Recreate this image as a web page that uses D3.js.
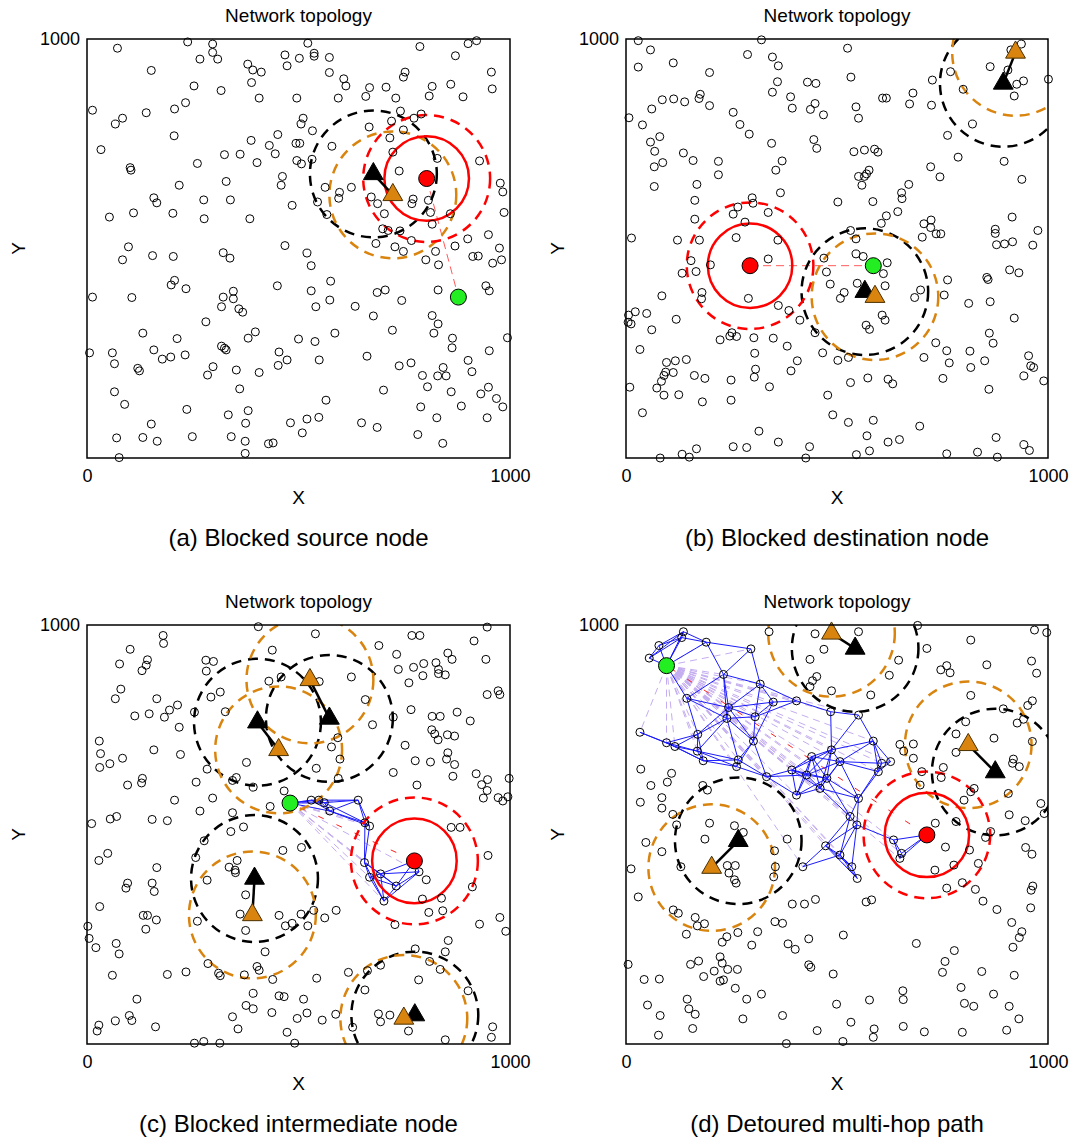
<!DOCTYPE html>
<html>
<head>
<meta charset="utf-8">
<script src="https://cdn.jsdelivr.net/npm/d3@7"></script>
<style>
  body { margin: 0; background: #fff; }
  text { font-family: "Liberation Sans", Arial, sans-serif; fill: #000; }
</style>
</head>
<body>
<script>
// ---- data (field coordinates, 0..1000) ----
var tickX = [0, 1000];
var tickY = [1000];
var rangeSolid = 100;   // source comm range
var rangeDashed = 150;  // jamming / outer range
var linkRange = 110;    // blue links between routing nodes

var nodesA = [[72,978],[238,993],[297,988],[522,990],[787,982],[901,989],[921,996],[297,968],[267,952],[309,952],[468,962],[502,954],[537,966],[537,959],[573,956],[871,960],[152,925],[380,940],[392,926],[412,921],[473,936],[573,920],[752,921],[748,909],[956,921],[253,888],[317,877],[389,896],[607,905],[612,888],[668,884],[707,885],[816,887],[860,892],[958,881],[407,859],[496,859],[594,859],[659,863],[730,859],[809,864],[889,862],[13,830],[84,811],[67,797],[140,824],[207,833],[233,848],[511,811],[741,828],[790,821],[773,811],[506,797],[533,781],[667,790],[720,804],[748,783],[206,769],[388,758],[451,772],[716,764],[33,736],[431,746],[445,726],[494,751],[503,751],[579,744],[723,730],[325,724],[362,725],[261,703],[402,705],[496,710],[507,702],[532,713],[828,715],[928,709],[102,693],[104,687],[738,685],[218,651],[329,660],[462,672],[459,651],[977,656],[983,635],[158,621],[165,609],[276,616],[339,616],[563,646],[597,634],[595,620],[625,646],[672,623],[687,607],[771,618],[768,607],[807,615],[545,611],[485,603],[53,575],[110,585],[203,584],[277,571],[385,571],[567,581],[703,583],[812,586],[859,583],[986,586],[699,547],[712,543],[740,542],[816,558],[949,533],[900,523],[683,512],[728,504],[767,519],[870,506],[975,501],[468,507],[98,504],[824,493],[801,473],[831,461],[912,481],[925,482],[959,465],[980,473],[748,493],[84,473],[155,483],[204,481],[322,490],[338,477],[520,489],[530,459],[13,384],[106,383],[199,413],[207,424],[234,404],[450,411],[530,399],[576,422],[574,377],[541,361],[346,398],[322,384],[346,380],[318,361],[359,356],[368,348],[281,325],[634,362],[686,395],[705,401],[744,376],[677,339],[830,401],[943,411],[951,399],[816,340],[830,320],[820,298],[722,305],[864,286],[863,263],[994,287],[951,256],[132,298],[213,285],[158,258],[178,236],[198,241],[232,246],[6,251],[60,251],[65,225],[120,214],[124,208],[318,267],[325,262],[329,258],[381,286],[398,301],[298,218],[285,198],[353,210],[407,204],[454,253],[473,234],[452,221],[500,284],[539,278],[586,298],[549,234],[662,243],[738,220],[766,227],[793,197],[842,216],[829,196],[849,196],[901,233],[910,206],[805,170],[861,158],[949,169],[931,153],[968,142],[983,122],[885,124],[789,122],[827,96],[946,96],[701,162],[565,138],[65,158],[89,128],[361,165],[236,116],[334,103],[381,113],[375,83],[152,81],[481,84],[520,93],[548,97],[509,60],[649,84],[686,73],[782,56],[841,35],[70,48],[132,49],[166,40],[249,51],[341,51],[374,40],[374,11],[429,34],[440,36],[76,1]];

var nodesB = [[29,996],[58,974],[321,998],[29,933],[112,943],[198,920],[288,963],[347,957],[361,936],[359,898],[347,873],[430,897],[450,894],[525,978],[533,909],[390,862],[394,835],[437,832],[448,846],[468,819],[86,855],[113,857],[139,850],[173,858],[176,868],[198,841],[61,833],[7,812],[39,795],[80,767],[58,754],[68,732],[87,705],[67,695],[67,648],[136,728],[159,710],[219,708],[219,676],[168,653],[163,615],[163,570],[254,825],[270,796],[292,773],[345,751],[370,709],[355,687],[366,633],[299,621],[301,608],[265,599],[254,582],[282,563],[337,586],[261,526],[360,520],[174,520],[122,520],[13,525],[445,760],[452,739],[540,731],[565,735],[589,737],[597,730],[545,838],[551,811],[608,859],[617,859],[680,871],[672,845],[724,842],[726,902],[769,922],[799,880],[821,797],[762,770],[787,718],[722,695],[744,671],[896,708],[938,665],[863,934],[905,926],[926,892],[942,900],[920,864],[937,988],[912,974],[1001,904],[576,687],[570,678],[565,672],[551,672],[559,651],[670,653],[653,633],[654,619],[644,588],[617,578],[605,560],[585,612],[502,611],[532,543],[545,523],[706,559],[723,568],[722,550],[735,535],[746,535],[702,527],[915,575],[875,546],[875,536],[976,543],[878,509],[897,511],[916,516],[964,508],[154,471],[133,441],[166,445],[200,461],[85,387],[180,395],[179,380],[290,381],[337,475],[361,364],[386,352],[412,329],[6,341],[22,349],[5,324],[12,320],[49,345],[119,331],[61,306],[33,259],[223,282],[246,291],[251,299],[262,290],[303,287],[349,286],[382,267],[305,250],[307,212],[304,193],[340,170],[406,232],[391,208],[448,299],[466,251],[502,233],[527,240],[475,444],[469,477],[484,415],[545,487],[562,481],[548,417],[517,395],[508,381],[619,466],[610,440],[614,411],[607,341],[614,329],[569,317],[577,307],[698,401],[684,383],[754,389],[762,425],[812,369],[863,373],[855,431],[858,426],[909,449],[931,442],[920,334],[861,298],[870,274],[734,275],[760,256],[766,227],[706,240],[815,255],[817,216],[850,232],[954,244],[959,220],[966,216],[943,196],[990,184],[860,164],[751,190],[621,188],[632,177],[573,191],[532,180],[9,169],[73,167],[84,183],[90,197],[94,205],[96,228],[112,204],[117,232],[143,235],[162,197],[187,190],[125,151],[90,150],[181,134],[249,186],[249,138],[39,108],[478,150],[490,103],[527,85],[586,90],[571,53],[621,38],[648,44],[696,76],[877,49],[943,32],[956,18],[833,14],[880,2],[760,10],[577,17],[546,8],[435,27],[426,0],[361,38],[315,64],[286,25],[254,27],[167,22],[150,2],[133,9],[81,0]];

var nodesC = [[405,996],[540,979],[768,975],[787,975],[946,995],[915,962],[943,918],[690,951],[732,930],[853,933],[863,918],[825,910],[831,894],[831,884],[847,881],[796,908],[772,899],[794,879],[736,894],[761,862],[180,975],[181,956],[102,942],[143,917],[140,904],[130,891],[77,907],[80,847],[67,824],[165,824],[147,788],[113,783],[183,780],[195,797],[214,809],[218,756],[281,916],[299,913],[282,890],[438,940],[459,876],[430,866],[549,865],[625,876],[658,822],[675,762],[724,780],[766,798],[816,782],[835,782],[875,792],[906,771],[972,843],[976,834],[946,834],[815,750],[822,740],[830,726],[852,738],[869,735],[853,695],[850,680],[869,667],[865,639],[920,645],[933,619],[947,631],[946,605],[937,587],[972,588],[983,580],[998,634],[995,590],[752,713],[776,676],[812,673],[724,648],[780,618],[293,828],[315,840],[327,793],[254,792],[29,723],[32,693],[30,660],[54,669],[84,682],[158,702],[221,691],[96,618],[129,623],[131,634],[207,582],[258,625],[297,587],[284,656],[377,672],[344,629],[353,636],[393,613],[542,658],[594,634],[578,709],[598,680],[593,731],[466,604],[433,567],[344,552],[370,518],[267,556],[154,536],[190,533],[70,543],[55,537],[11,526],[861,517],[882,517],[340,507],[28,438],[49,455],[165,421],[96,384],[92,372],[154,384],[159,364],[30,328],[2,281],[5,252],[21,230],[69,240],[76,215],[133,307],[143,307],[164,296],[139,274],[60,164],[118,107],[100,68],[106,56],[67,55],[28,45],[24,31],[162,41],[190,166],[234,172],[277,485],[257,445],[284,391],[336,422],[350,415],[351,409],[355,438],[375,356],[362,310],[261,293],[375,271],[463,462],[507,469],[454,307],[469,282],[485,288],[506,310],[522,282],[536,319],[562,301],[589,319],[421,220],[286,192],[311,169],[315,163],[402,185],[407,176],[372,165],[439,154],[543,157],[393,121],[376,92],[393,84],[437,75],[454,115],[466,113],[512,107],[520,74],[497,61],[556,57],[344,65],[357,36],[473,28],[491,2],[254,2],[276,6],[314,2],[588,71],[628,40],[618,171],[657,129],[663,175],[694,188],[784,153],[810,197],[835,178],[847,220],[854,247],[776,227],[901,127],[689,72],[716,69],[694,53],[760,31],[847,10],[959,41],[956,16],[928,286],[976,302],[990,269],[948,450],[911,375],[841,318],[808,314],[793,346],[838,348],[728,285],[802,392]];

var netC = [[530,582],[548,582],[561,576],[574,556],[641,582],[657,528],[668,520],[656,433],[668,398],[694,406],[731,377],[702,341],[785,411]];

var nodesD = [[339,984],[448,979],[551,984],[469,942],[436,918],[452,877],[442,867],[436,853],[487,843],[580,833],[624,880],[646,916],[691,999],[713,944],[817,964],[855,905],[746,893],[760,903],[768,886],[968,988],[997,982],[961,914],[973,885],[817,832],[894,800],[963,819],[952,808],[942,775],[927,766],[805,769],[782,740],[872,730],[963,722],[782,696],[918,680],[916,670],[932,662],[649,715],[681,716],[658,699],[681,682],[752,660],[747,636],[701,650],[697,618],[825,610],[817,602],[801,582],[906,598],[983,574],[991,550],[908,547],[946,533],[782,531],[733,527],[864,507],[35,656],[108,646],[98,625],[59,617],[34,577],[85,588],[85,563],[111,548],[182,617],[193,606],[120,523],[198,527],[257,521],[278,505],[47,481],[85,459],[12,418],[29,351],[187,489],[130,423],[240,426],[259,426],[244,408],[257,392],[261,384],[352,461],[354,423],[350,399],[382,489],[112,320],[124,312],[164,302],[169,282],[186,287],[143,262],[239,256],[228,243],[265,266],[312,268],[298,236],[353,292],[371,288],[394,334],[423,334],[449,345],[384,239],[401,226],[433,251],[515,260],[569,339],[582,344],[5,190],[43,154],[79,155],[153,190],[172,198],[209,174],[223,208],[228,193],[241,178],[264,178],[184,161],[223,150],[231,153],[259,133],[286,107],[321,119],[51,93],[81,68],[145,107],[149,84],[164,71],[158,37],[77,21],[277,60],[371,68],[380,1],[433,189],[438,183],[491,167],[499,95],[453,32],[514,6],[533,52],[577,105],[588,36],[586,16],[656,127],[657,106],[657,42],[707,29],[688,240],[778,223],[756,197],[750,171],[843,173],[794,135],[802,97],[824,90],[871,119],[908,90],[931,60],[902,33],[797,28],[920,164],[917,231],[932,254],[938,268],[914,290],[879,321],[846,341],[828,369],[797,385],[760,372],[959,325],[964,377],[960,367],[947,469],[962,453],[835,431],[777,427],[814,463],[852,493],[757,470],[732,415]];

var netD = [[136,984],[132,970],[78,951],[55,921],[190,959],[296,943],[231,882],[318,859],[144,825],[243,803],[239,777],[306,781],[349,816],[404,819],[485,793],[551,785],[33,744],[96,719],[116,710],[170,739],[169,699],[183,676],[302,723],[266,678],[262,662],[333,638],[393,654],[404,594],[440,686],[460,610],[487,702],[507,674],[586,723],[598,650],[606,670],[627,674],[551,586],[531,543],[547,523],[428,642],[476,634],[419,423],[473,473],[507,451],[535,423],[548,395],[634,487],[653,455],[649,443]];

// source (red), destination (green), jammer old position (orange) -> new position (black)
var srcA = [803,667], dstA = [878,384];
var orangeA = [[723,628]], blackA = [[677,678]];
var srcB = [294,459], dstB = [586,459];
var orangeB = [[590,385],[923,968]], blackB = [[566,397],[894,894]];
var srcC = [774,437], dstC = [480,575];
var orangeC = [[527,869],[453,702],[391,308],[749,61]], blackC = [[573,777],[403,768],[396,395],[775,69]];
var srcD = [713,499], dstD = [96,903];
var orangeD = [[487,980],[811,714],[203,421]], blackD = [[543,944],[875,649],[266,485]];

var titles = ["Network topology","Network topology","Network topology","Network topology"];
var captions = ["(a) Blocked source node","(b) Blocked destination node","(c) Blocked intermediate node","(d) Detoured multi-hop path"];

// ---- layout ----
var layout = [
  {x:87, y:39, w:423, h:419},
  {x:626, y:39, w:422, h:419},
  {x:87, y:625, w:423, h:419},
  {x:626, y:625, w:422, h:419}
];

var orangeC_ = "#d9840f";
var panelData = [
  {nodes:nodesA, net:[], src:srcA, dst:dstA, orange:orangeA, black:blackA},
  {nodes:nodesB, net:[], src:srcB, dst:dstB, orange:orangeB, black:blackB},
  {nodes:nodesC, net:netC, src:srcC, dst:dstC, orange:orangeC, black:blackC},
  {nodes:nodesD, net:netD, src:srcD, dst:dstD, orange:orangeD, black:blackD}
];

var svg = d3.select("body").append("svg")
  .attr("width", 1076)
  .attr("height", 1137);

panelData.forEach(function(d, i) {
  var L = layout[i];
  var x = d3.scaleLinear().domain([0,1000]).range([L.x, L.x+L.w]);
  var y = d3.scaleLinear().domain([0,1000]).range([L.y+L.h, L.y]);
  var k = L.w/1000; // px per field unit
  var g = svg.append("g");

  g.append("clipPath").attr("id","clip"+i)
    .append("rect").attr("x",L.x).attr("y",L.y).attr("width",L.w).attr("height",L.h);
  var cg = g.append("g").attr("clip-path","url(#clip"+i+")");

  // lavender candidate lines from destination to routing nodes
  cg.selectAll(".cand").data(d.net).enter().append("line")
    .attr("x1", x(d.dst[0])).attr("y1", y(d.dst[1]))
    .attr("x2", function(p) { return x(p[0]); })
    .attr("y2", function(p) { return y(p[1]); })
    .style("stroke","#c4adf0").style("stroke-width",1)
    .style("stroke-dasharray","7,5");

  // straight source-destination line
  cg.append("line")
    .attr("x1", x(d.src[0])).attr("y1", y(d.src[1]))
    .attr("x2", x(d.dst[0])).attr("y2", y(d.dst[1]))
    .style("stroke", i < 2 ? "#ff5a5a" : "#ff2020")
    .style("stroke-width", 1)
    .style("stroke-dasharray", i < 2 ? "8,5" : "6,14");

  // blue links between nodes of the route area
  if (d.net.length) {
    var pts = [d.dst].concat(d.net).concat([d.src]);
    var links = [];
    pts.forEach(function(a, m) {
      pts.forEach(function(b, n) {
        if (n > m && Math.hypot(a[0]-b[0], a[1]-b[1]) < linkRange) links.push([a,b]);
      });
    });
    cg.selectAll(".link").data(links).enter().append("line")
      .attr("x1", function(l) { return x(l[0][0]); })
      .attr("y1", function(l) { return y(l[0][1]); })
      .attr("x2", function(l) { return x(l[1][0]); })
      .attr("y2", function(l) { return y(l[1][1]); })
      .style("stroke","#1a1aff").style("stroke-width",1);
  }

  // range circles
  cg.selectAll(".jb").data(d.black).enter().append("circle")
    .attr("cx", function(p) { return x(p[0]); }).attr("cy", function(p) { return y(p[1]); })
    .attr("r", rangeDashed*k)
    .style("fill","none").style("stroke","#000").style("stroke-width",2.5)
    .style("stroke-dasharray","10,7");
  cg.selectAll(".jo").data(d.orange).enter().append("circle")
    .attr("cx", function(p) { return x(p[0]); }).attr("cy", function(p) { return y(p[1]); })
    .attr("r", rangeDashed*k)
    .style("fill","none").style("stroke",orangeC_).style("stroke-width",2.5)
    .style("stroke-dasharray","10,7");
  cg.append("circle")
    .attr("cx", x(d.src[0])).attr("cy", y(d.src[1])).attr("r", rangeSolid*k)
    .style("fill","none").style("stroke","#ff0000").style("stroke-width",2.5);
  cg.append("circle")
    .attr("cx", x(d.src[0])).attr("cy", y(d.src[1])).attr("r", rangeDashed*k)
    .style("fill","none").style("stroke","#ff0000").style("stroke-width",2.5)
    .style("stroke-dasharray","10,7");

  // sensor nodes
  g.selectAll(".node").data(d.nodes.concat(d.net)).enter().append("circle")
    .attr("cx", function(p) { return x(p[0]); })
    .attr("cy", function(p) { return y(p[1]); })
    .attr("r", 4)
    .style("fill","none").style("stroke","#000").style("stroke-width",1);

  // jammer movement
  d.orange.forEach(function(o, j) {
    var b = d.black[j];
    g.append("line")
      .attr("x1", x(o[0])).attr("y1", y(o[1]))
      .attr("x2", x(b[0])).attr("y2", y(b[1]))
      .style("stroke","#000").style("stroke-width",2.5);
  });
  var tri = d3.symbol().type(d3.symbolTriangle).size(170);
  g.selectAll(".tb").data(d.black).enter().append("path")
    .attr("d", tri)
    .attr("transform", function(p) { return "translate("+x(p[0])+","+y(p[1])+")"; })
    .style("fill","#000").style("stroke","#000").style("stroke-width",1);
  g.selectAll(".to").data(d.orange).enter().append("path")
    .attr("d", tri)
    .attr("transform", function(p) { return "translate("+x(p[0])+","+y(p[1])+")"; })
    .style("fill",orangeC_).style("stroke","#4a3000").style("stroke-width",1);

  // source and destination
  g.append("circle").attr("cx", x(d.src[0])).attr("cy", y(d.src[1])).attr("r", 8)
    .style("fill","#ff0000").style("stroke","#000").style("stroke-width",1);
  g.append("circle").attr("cx", x(d.dst[0])).attr("cy", y(d.dst[1])).attr("r", 8)
    .style("fill","#22ee22").style("stroke","#000").style("stroke-width",1);

  // box
  g.append("rect").attr("x",L.x).attr("y",L.y).attr("width",L.w).attr("height",L.h)
    .style("fill","none").style("stroke","#000").style("stroke-width",1.5);

  // axes (labels only)
  var ax = g.append("g").attr("transform","translate(0,"+(L.y+L.h)+")")
    .call(d3.axisBottom(x).tickValues(tickX).tickFormat(d3.format("d")).tickSize(0).tickPadding(11));
  var ay = g.append("g").attr("transform","translate("+L.x+",0)")
    .call(d3.axisLeft(y).tickValues(tickY).tickFormat(d3.format("d")).tickSize(0).tickPadding(7));
  [ax, ay].forEach(function(a) {
    a.select(".domain").remove();
    a.selectAll("text").style("font-family","'Liberation Sans', Arial, sans-serif")
      .style("font-size","18px").style("fill","#000");
  });

  var cx = L.x + L.w/2;
  g.append("text").attr("x", cx).attr("y", L.y - 17)
    .attr("text-anchor","middle").style("font-size","19px").text(titles[i]);
  g.append("text").attr("x", cx).attr("y", L.y + L.h + 46)
    .attr("text-anchor","middle").style("font-size","19px").text("X");
  g.append("text")
    .attr("transform","translate("+(L.x-69)+","+(L.y+L.h/2)+") rotate(-90)")
    .attr("text-anchor","middle").attr("dy","0.35em")
    .style("font-size","19px").text("Y");
  g.append("text").attr("x", cx).attr("y", L.y + L.h + 88)
    .attr("text-anchor","middle").style("font-size","24px").text(captions[i]);
});
</script>
</body>
</html>
